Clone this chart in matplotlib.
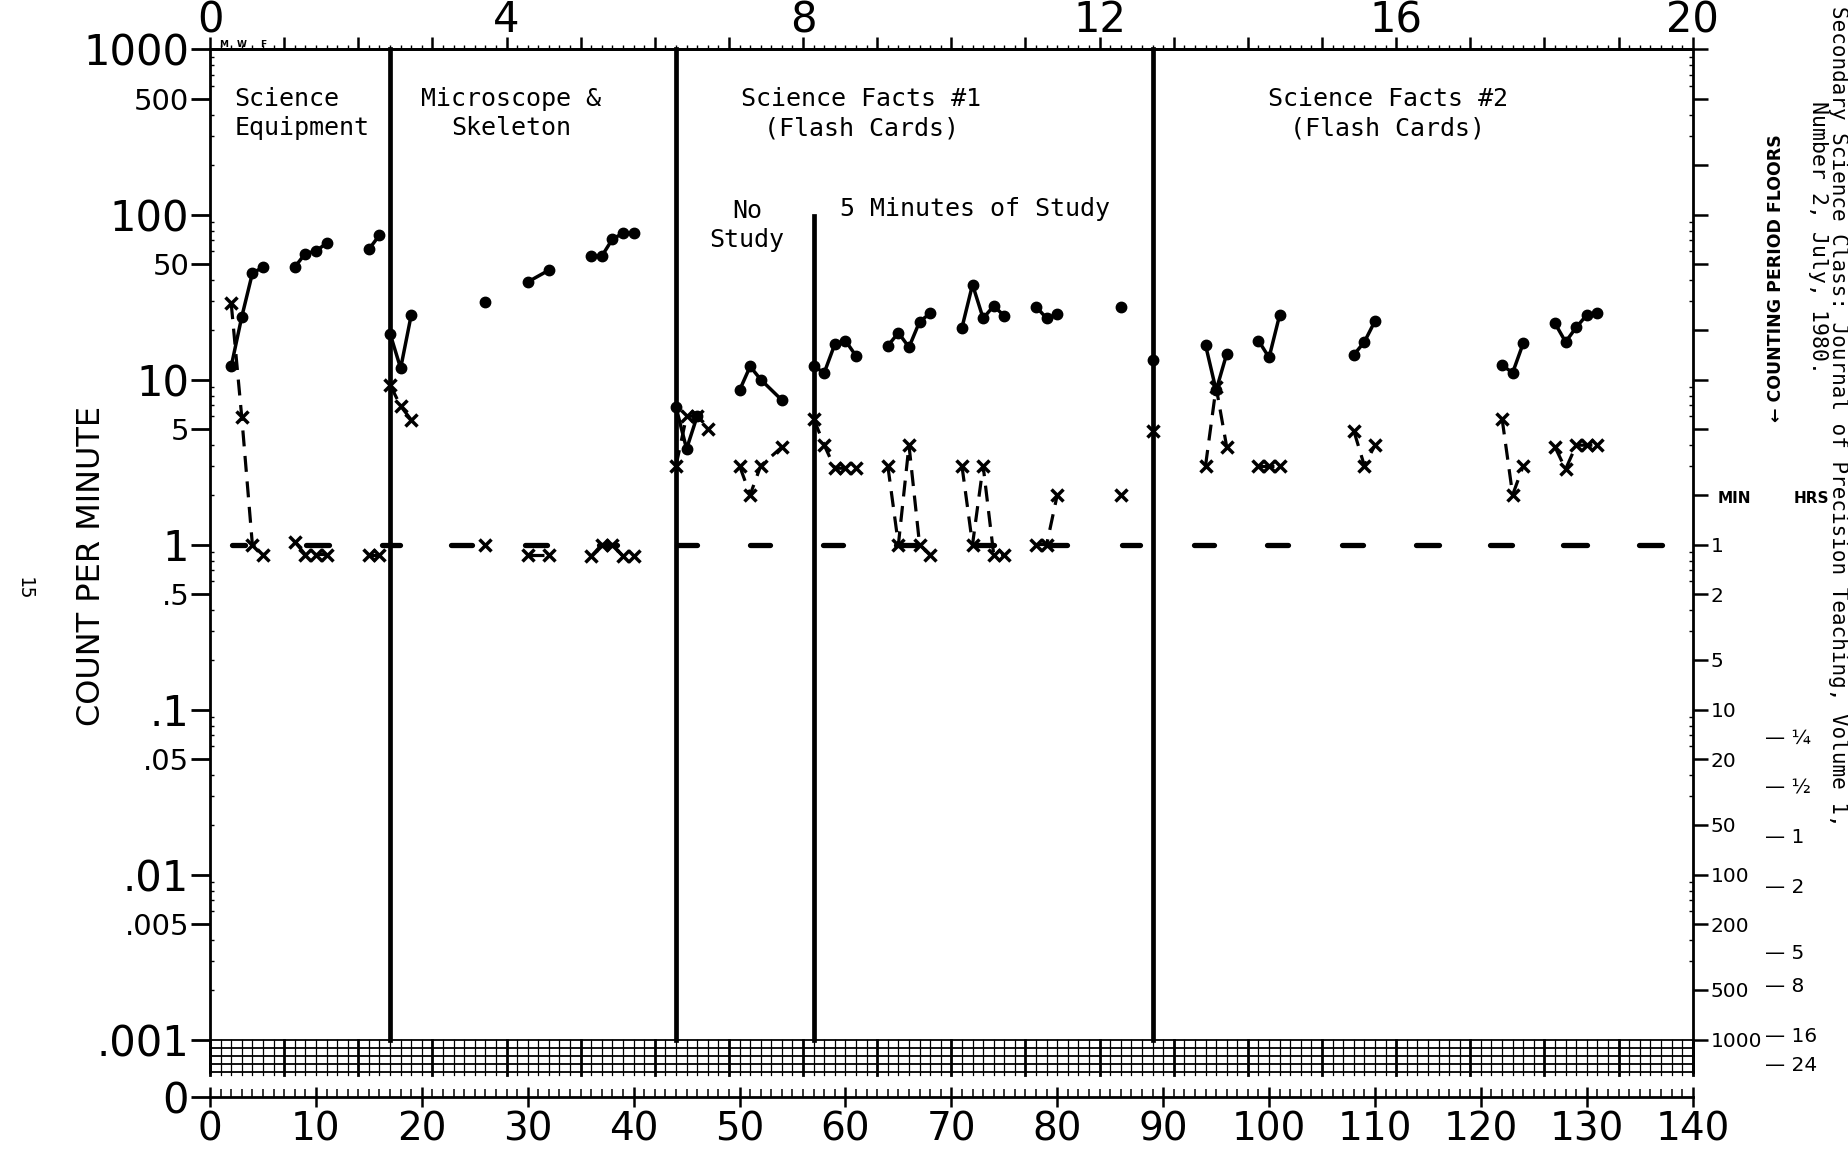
import numpy as np
import matplotlib
matplotlib.use("Agg")
import matplotlib.pyplot as plt
from matplotlib.ticker import FixedLocator, NullFormatter, FuncFormatter

# ---------------- data ----------------
correct_days = [2, 3, 4, 5, 8, 9, 10, 11, 15, 16,
                17, 18, 19, 26, 30, 32, 36, 37, 38, 39, 40,
                44, 45, 46, 50, 51, 52, 54,
                57, 58, 59, 60, 61, 64, 65, 66, 67, 68, 71, 72, 73, 74, 75,
                78, 79, 80, 86,
                89, 94, 95, 96, 99, 100, 101, 108, 109, 110,
                122, 123, 124, 127, 128, 129, 130, 131]
correct_vals = [12.0, 24.0, 44.0, 48.0, 48.0, 58.0, 60.0, 67.0, 61.5, 75.0,
                19.0, 11.7, 24.6, 29.6, 39.0, 46.0, 56.0, 56.0, 71.0, 77.0, 77.0,
                6.8, 3.8, 6.0, 8.6, 12.0, 10.0, 7.5,
                12.0, 11.0, 16.4, 17.2, 13.9, 16.0, 19.2, 15.7, 22.4, 25.2,
                20.6, 37.6, 23.5, 27.9, 24.3,
                27.6, 23.5, 24.9, 27.4,
                13.2, 16.2, 8.6, 14.3, 17.2, 13.6, 24.6, 14.1, 16.9, 22.6,
                12.2, 11.0, 16.6, 21.9, 16.9, 20.7, 24.6, 25.2]

error_days = [2, 3, 4, 5, 8, 9, 10, 11, 15, 16,
              17, 18, 19, 26, 30, 32, 36, 37, 38, 39, 40,
              44, 45, 46, 47, 50, 51, 52, 54,
              57, 58, 59, 60, 61, 64, 65, 66, 67, 68, 71, 72, 73, 74, 75,
              78, 79, 80, 86,
              89, 94, 95, 96, 99, 100, 101, 108, 109, 110,
              122, 123, 124, 127, 128, 129, 130, 131]
error_vals = [29.0, 5.9, 1.0, 0.87, 1.04, 0.87, 0.87, 0.87, 0.87, 0.87,
              9.3, 6.9, 5.7, 1.0, 0.87, 0.87, 0.85, 1.0, 1.0, 0.85, 0.85,
              3.0, 6.0, 6.0, 5.0, 3.0, 2.0, 3.0, 3.9,
              5.8, 4.0, 2.9, 2.9, 2.9, 3.0, 1.0, 4.0, 1.0, 0.87,
              3.0, 1.0, 3.0, 0.87, 0.87,
              1.0, 1.0, 2.0, 2.0,
              4.9, 3.0, 9.0, 3.9, 3.0, 3.0, 3.0, 4.9, 3.0, 4.0,
              5.8, 2.0, 3.0, 3.9, 2.86, 4.0, 4.0, 4.0]

# counting-period floor marks (1-minute timing -> record floor at 1 per minute)
floor_level = 1.0
floor_starts = [2.05, 9.1, 16.2, 22.8, 29.7, 36.7, 44.1, 51.0, 57.9, 64.8, 72.0,
                79.0, 86.1, 92.9, 99.8, 106.9, 113.9, 120.9, 127.8, 134.9]
floor_ends = [3.3, 11.2, 17.9, 24.7, 31.8, 38.4, 46.0, 52.9, 59.8, 66.7, 74.0,
              80.9, 87.8, 94.8, 101.8, 108.9, 116.0, 122.9, 130.0, 137.1]

phase_days = [17, 44, 57, 89]
phase_tops = [1000, 1000, 98, 1000]

phase_labels = ["Science\nEquipment", "Microscope &\nSkeleton",
                "Science Facts #1\n(Flash Cards)", "Science Facts #2\n(Flash Cards)",
                "No\nStudy", "5 Minutes of Study"]

left_tick_vals = [1000, 500, 100, 50, 10, 5, 1, .5, .1, .05, .01, .005, .001]
left_tick_text = ["1000", "500", "100", "50", "10", "5", "1", ".5", ".1",
                  ".05", ".01", ".005", ".001"]
min_labels = ["1", "2", "5", "10", "20", "50", "100", "200", "500", "1000"]
hrs_labels = ["¼", "½", "1", "2", "5", "8", "16", "24"]
hrs_values = [0.25, 0.5, 1, 2, 5, 8, 16, 24]
week_labels = [0, 4, 8, 12, 16, 20]
day_labels = list(range(0, 141, 10))

# ---------------- figure ----------------
MONO = "DejaVu Sans Mono"
SANS = "DejaVu Sans"
plt.rcParams["font.family"] = [SANS]

ZERO_LEVEL = 10 ** -3.348
BAND_BOTTOM = 10 ** -3.197

fig = plt.figure(figsize=(18.48, 11.57), dpi=100)
ax = fig.add_axes([0.11364, 0.05186, 0.80232, 0.90536])
ax.set_yscale("log")
ax.set_xlim(0, 140)
ax.set_ylim(ZERO_LEVEL, 1000)

for s in ax.spines.values():
    s.set_linewidth(2.0)
ax.spines["right"].set_visible(False)
ax.spines["left"].set_bounds(BAND_BOTTOM, 1000)

# left axis ticks / labels
ax.yaxis.set_major_locator(FixedLocator(left_tick_vals + [ZERO_LEVEL]))
ax.set_yticklabels(left_tick_text + ["0"])
for lab, txt in zip(ax.get_yticklabels(), left_tick_text + ["0"]):
    big = txt in ("1000", "100", "10", "1", ".1", ".01", ".001", "0")
    lab.set_fontsize(30 if big else 21)
minor_left = [m * 10.0 ** e for e in range(-3, 3) for m in range(2, 10) if m != 5]
ax.yaxis.set_minor_locator(FixedLocator(minor_left))
ax.yaxis.set_minor_formatter(NullFormatter())
ax.tick_params(axis="y", which="major", direction="out", length=14, width=2, pad=1)
ax.tick_params(axis="y", which="minor", direction="in", length=3, width=1)

# bottom day axis (the "0" row)
ax.xaxis.set_major_locator(FixedLocator(day_labels))
ax.set_xticklabels([str(d) for d in day_labels], fontsize=28)
ax.xaxis.set_minor_locator(FixedLocator(list(range(0, 141))))
ax.tick_params(axis="x", which="major", direction="inout", length=14, width=1.8, pad=3)
ax.tick_params(axis="x", which="minor", direction="in", length=6, width=1.1)

# top week axis
top = ax.secondary_xaxis("top", functions=(lambda d: d / 7.0, lambda w: w * 7.0))
top.xaxis.set_major_locator(FixedLocator(list(range(0, 21))))
top.xaxis.set_major_formatter(FuncFormatter(lambda w, p: str(int(round(w))) if int(round(w)) in week_labels else ""))
top.xaxis.set_minor_locator(FixedLocator([d / 7.0 for d in range(0, 141)]))
top.tick_params(axis="x", which="major", direction="out", length=9, width=1.8, pad=-3, labelsize=30)
top.tick_params(axis="x", which="minor", direction="out", length=3, width=1)
top.spines["top"].set_linewidth(2.0)

# right counting-period axis
axr = ax.twinx()
axr.set_yscale("log")
axr.set_ylim(ax.get_ylim())
for k in ("left", "top", "bottom"):
    axr.spines[k].set_visible(False)
axr.spines["right"].set_linewidth(2.0)
axr.spines["right"].set_bounds(BAND_BOTTOM, 1000)
right_vals = [1000, 500, 200, 100, 50, 20, 10, 5, 2] + [1.0 / float(m) for m in min_labels]
axr.yaxis.set_major_locator(FixedLocator(right_vals))
axr.set_yticklabels([""] * 9 + min_labels)
axr.yaxis.set_minor_locator(FixedLocator(minor_left))
axr.yaxis.set_minor_formatter(NullFormatter())
axr.tick_params(axis="y", which="major", direction="out", length=11, width=1.8, pad=2, labelsize=14.5)
axr.tick_params(axis="y", which="minor", direction="in", length=3, width=1)

# bottom hatched band between .001 and the zero row
for lvl in np.logspace(-3, -3.197, 5):
    ax.plot([0, 140], [lvl, lvl], color="black", lw=1.3, clip_on=False, zorder=2)
for day in range(0, 141):
    ax.plot([day, day], [0.001, 10 ** -3.215], color="black",
            lw=2.0 if day % 7 == 0 else 0.9, clip_on=False, zorder=2)

# phase change lines
for d, t in zip(phase_days, phase_tops):
    ax.plot([d, d], [0.001, t], color="black", lw=3.4, zorder=3, clip_on=False)

# record floors
for a, b in zip(floor_starts, floor_ends):
    ax.plot([a, b], [floor_level, floor_level], color="black", lw=3.8,
            solid_capstyle="round", zorder=3)


def segments(days, vals):
    bounds = np.array(phase_days)
    out = []
    cd, cv = [days[0]], [vals[0]]
    for d0, d, v in zip(days[:-1], days[1:], vals[1:]):
        same_week = d // 7 == d0 // 7
        same_phase = np.searchsorted(bounds, d, side="right") == np.searchsorted(bounds, d0, side="right")
        if same_week and same_phase:
            cd.append(d)
            cv.append(v)
        else:
            out.append((cd, cv))
            cd, cv = [d], [v]
    out.append((cd, cv))
    return out


for d, v in segments(correct_days, correct_vals):
    ax.plot(d, v, color="black", lw=2.5, zorder=4)
ax.plot(correct_days, correct_vals, "o", ms=7.5, color="black", zorder=5)

for d, v in segments(error_days, error_vals):
    ax.plot(d, v, color="black", lw=2.3, ls=(0, (5, 3)), zorder=4)
ax.plot(error_days, error_vals, "x", ms=8.5, mew=2.5, color="black", zorder=5)

# phase labels
tkw = dict(fontsize=18, family=MONO, color="black", linespacing=1.25, zorder=6)
ax.text(2.3, 408, phase_labels[0], ha="left", va="center", multialignment="left", **tkw)
ax.text(28.4, 408, phase_labels[1], ha="center", va="center", multialignment="center", **tkw)
ax.text(61.5, 408, phase_labels[2], ha="center", va="center", multialignment="center", **tkw)
ax.text(111.2, 408, phase_labels[3], ha="center", va="center", multialignment="center", **tkw)
ax.text(50.7, 85.5, phase_labels[4], ha="center", va="center", multialignment="center", **tkw)
ax.text(72.2, 108.6, phase_labels[5], ha="center", va="center", **tkw)

# M W F marks (just above the top line)
for d, s in zip([1.3, 3, 5], ["M", "W", "F"]):
    ax.text(d, 1012, s, ha="center", va="bottom", fontsize=6.5, fontweight="bold", clip_on=False)

# right-hand MIN / HRS scale
yx = ax.get_yaxis_transform()
ax.text(1.0284, 1.9, "MIN", transform=yx, ha="center", va="center",
        fontsize=11, fontweight="bold")
ax.text(1.0801, 1.9, "HRS", transform=yx, ha="center", va="center",
        fontsize=11, fontweight="bold")
for lab, h in zip(hrs_labels, hrs_values):
    ax.text(1.049, 1.0 / (h * 60.0), "— " + lab, transform=yx, ha="left", va="center",
            fontsize=14.5)

# axis titles and marginal texts
fig.text(0.0497, 0.511, "COUNT PER MINUTE", rotation=90, ha="center", va="center", fontsize=23)
fig.text(0.0128, 0.491, "15", rotation=-90, ha="center", va="center", fontsize=14, family=MONO)
fig.text(0.961, 0.76, "\u2190 COUNTING PERIOD FLOORS", rotation=90, ha="center", va="center",
         fontsize=12.5, fontweight="bold")
fig.text(0.9836, 0.913, "Number 2, July, 1980.", rotation=-90, ha="center", va="top",
         fontsize=15.5, family=MONO)
fig.text(0.9945, 0.995, "Secondary Science Class: Journal of Precision Teaching, Volume 1,",
         rotation=-90, ha="center", va="top", fontsize=15, family=MONO)

fig.savefig("out.png", dpi=100, facecolor="white")
